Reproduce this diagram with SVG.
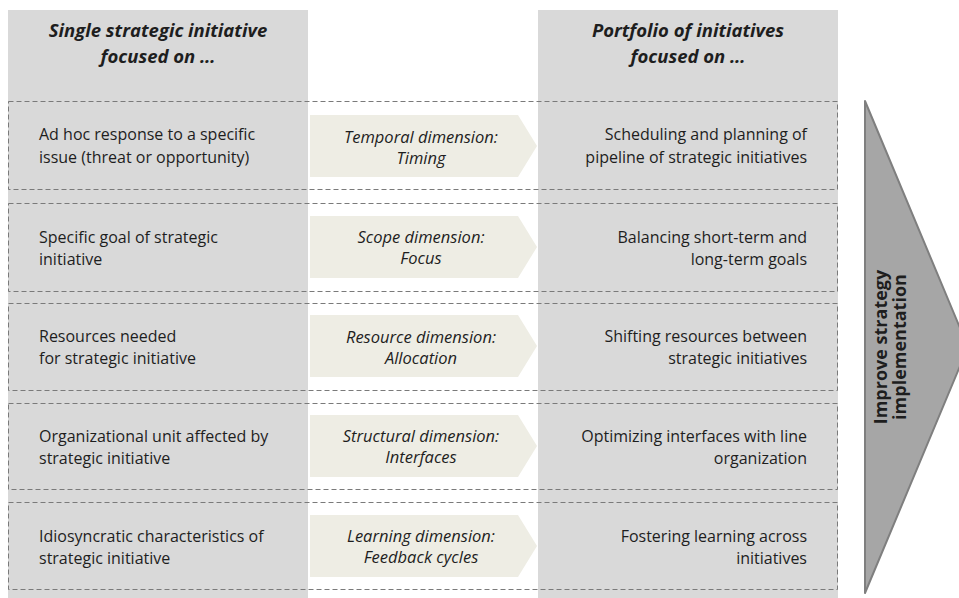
<svg xmlns="http://www.w3.org/2000/svg" width="959" height="598" viewBox="0 0 959 598">
<style>
.col{fill:#D9D9D9}
.row{fill:none;stroke:#7A7A7A;stroke-width:1;stroke-dasharray:5 3}
.chev{fill:#EEEDE4}
.t{font-family:"Open Sans","Liberation Sans",sans-serif;font-size:16px;fill:#1E1E1E}
.l{text-anchor:start}
.r{text-anchor:end}
.c{text-anchor:middle;font-style:italic;font-size:16.5px}
.h{font-weight:bold;font-style:italic;font-size:18.5px;text-anchor:middle}
.v{font-weight:bold;font-size:18px;text-anchor:middle}
</style>
<rect width="959" height="598" fill="#FFFFFF"/>
<g id="col-left"><rect class="col" x="8" y="10" width="300" height="588"/>
<text class="t h" x="158" y="37">Single strategic initiative</text>
<text class="t h" x="158" y="63">focused on …</text></g>
<g id="col-right"><rect class="col" x="538" y="10" width="300" height="588"/>
<text class="t h" x="688" y="37">Portfolio of initiatives</text>
<text class="t h" x="688" y="63">focused on …</text></g>

<g id="row1">
<rect class="row" x="8.5" y="101.5" width="829" height="88"/>
<text class="t l" x="39" y="140">Ad hoc response to a specific</text>
<text class="t l" x="39" y="163">issue (threat or opportunity)</text>
<polygon class="chev" points="310,115 518,115 537,146 518,177 310,177"/>
<text class="t c" x="421" y="143">Temporal dimension:</text>
<text class="t c" x="421" y="164">Timing</text>
<text class="t r" x="807" y="140">Scheduling and planning of</text>
<text class="t r" x="807" y="163">pipeline of strategic initiatives</text>
</g>
<g id="row2">
<rect class="row" x="8.5" y="203.5" width="829" height="88"/>
<text class="t l" x="39" y="243">Specific goal of strategic</text>
<text class="t l" x="39" y="265">initiative</text>
<polygon class="chev" points="310,216 518,216 537,247 518,278 310,278"/>
<text class="t c" x="421" y="243">Scope dimension:</text>
<text class="t c" x="421" y="264">Focus</text>
<text class="t r" x="807" y="243">Balancing short-term and</text>
<text class="t r" x="807" y="265">long-term goals</text>
</g>
<g id="row3">
<rect class="row" x="8.5" y="303.5" width="829" height="87"/>
<text class="t l" x="39" y="342">Resources needed</text>
<text class="t l" x="39" y="364">for strategic initiative</text>
<polygon class="chev" points="310,315 518,315 537,346 518,377 310,377"/>
<text class="t c" x="421" y="343">Resource dimension:</text>
<text class="t c" x="421" y="364">Allocation</text>
<text class="t r" x="807" y="342">Shifting resources between</text>
<text class="t r" x="807" y="364">strategic initiatives</text>
</g>
<g id="row4">
<rect class="row" x="8.5" y="403.5" width="829" height="86"/>
<text class="t l" x="39" y="442">Organizational unit affected by</text>
<text class="t l" x="39" y="464">strategic initiative</text>
<polygon class="chev" points="310,415 518,415 537,446 518,477 310,477"/>
<text class="t c" x="421" y="442">Structural dimension:</text>
<text class="t c" x="421" y="463">Interfaces</text>
<text class="t r" x="807" y="442">Optimizing interfaces with line</text>
<text class="t r" x="807" y="464">organization</text>
</g>
<g id="row5">
<rect class="row" x="8.5" y="502.5" width="829" height="87"/>
<text class="t l" x="39" y="542">Idiosyncratic characteristics of</text>
<text class="t l" x="39" y="564">strategic initiative</text>
<polygon class="chev" points="310,515 518,515 537,546 518,577 310,577"/>
<text class="t c" x="421" y="542">Learning dimension:</text>
<text class="t c" x="421" y="563">Feedback cycles</text>
<text class="t r" x="807" y="542">Fostering learning across</text>
<text class="t r" x="807" y="564">initiatives</text>
</g>

<g id="improve-arrow">
<polygon points="865,101 968,347 865,593" fill="#A6A6A6" stroke="#7F7F7F" stroke-width="2" stroke-linejoin="round"/>
<text class="t v" transform="translate(887,347) rotate(-90)">Improve strategy</text>
<text class="t v" transform="translate(906,347) rotate(-90)">implementation</text>
</g>
<g id="connectors"/>
</svg>
